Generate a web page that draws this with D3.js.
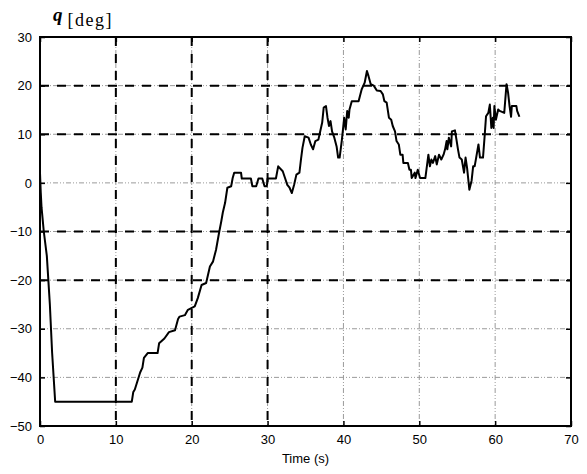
<!DOCTYPE html>
<html>
<head>
<meta charset="utf-8">
<script src="https://cdn.jsdelivr.net/npm/d3@7"></script>
<style>
  body { margin: 0; background: #fff; }
  svg { display: block; }
  .tick-label { font-family: "Liberation Sans", Arial, sans-serif; font-size: 13px; fill: #000; }
</style>
</head>
<body>
<svg id="chart"></svg>
<script>
// time samples (s) and heading angle (deg)
const time = [0, 0.1, 0.2, 0.5, 0.9, 1.1, 1.3, 1.6, 2.0, 12.1, 12.3, 12.5, 12.8, 13.2, 13.5, 13.7, 14.2, 15.5, 15.7, 16.4,
  17.0, 17.8, 18.2, 18.4, 19.1, 19.5, 20.4, 20.8, 21.3, 21.9, 22.4, 22.8, 23.2, 23.6, 23.9, 24.1, 24.4, 24.7, 25.2, 25.4,
  25.6, 26.5, 26.6, 27.8, 28.0, 28.5, 28.8, 29.3, 29.6, 29.9, 30.0, 31.1, 31.4, 32.0, 32.3, 32.6, 32.9, 33.2, 33.5, 33.8,
  34.2, 34.4, 34.6, 34.9, 35.4, 35.7, 36.0, 36.3, 36.7, 36.9, 37.2, 37.4, 37.7, 37.9, 38.1, 38.3, 38.5, 38.8, 39.1, 39.3,
  39.5, 39.8, 40.1, 40.3, 40.5, 40.7, 40.8, 41.1, 42.0, 42.4, 42.8, 43.1, 43.3, 43.6, 44.0, 44.4, 44.9, 45.2, 45.4, 45.7,
  46.0, 46.3, 46.5, 46.8, 47.0, 47.3, 47.5, 47.8, 47.9, 48.5, 48.7, 48.9, 49.0, 49.4, 49.5, 49.8, 50.1, 50.8, 51.0, 51.2,
  51.4, 51.6, 51.8, 52.1, 52.3, 52.6, 52.9, 53.2, 53.4, 53.6, 53.7, 53.9, 54.2, 54.3, 54.7, 54.9, 55.1, 55.3, 55.6, 55.9,
  56.1, 56.3, 56.6, 56.9, 57.1, 57.3, 57.5, 57.8, 58.0, 58.4, 58.6, 58.8, 59.1, 59.3, 59.5, 59.7, 59.8, 59.9, 60.1, 60.4,
  60.6, 61.2, 61.5, 61.7, 61.9, 62.1, 62.2, 62.8, 62.9, 63.2];
const theta = [2, -2, -5, -10, -15, -20, -25, -35, -45, -45, -43, -42.5, -41, -39, -38, -36, -35, -35, -33, -32,
  -30.7, -30.3, -28, -27.5, -27.2, -26.1, -25.4, -23.7, -21, -20.6, -17.2, -16.2, -13.8, -10.3, -7.9, -6.1, -4.1, -1.0, -0.7, 1.0,
  2.1, 2.1, 0.9, 0.9, -0.7, -0.7, 0.9, 0.9, -0.7, -0.7, 0.9, 0.9, 3.4, 2.4, 1, -0.4, -1.0, -2.1, -0.4, 1.7,
  2.1, 4.8, 7.2, 9.6, 9.3, 7.9, 6.9, 8.6, 8.9, 10.3, 12.4, 15.5, 15.8, 13.4, 11.7, 12.7, 10.6, 9.3, 7.5, 5.2,
  5.2, 8.9, 13.4, 11.0, 14.8, 13.4, 15.1, 16.8, 16.8, 19.2, 20.6, 23.0, 22.0, 20.3, 20.0, 19.0, 18.9, 18.2, 16.8, 16.5,
  13.4, 13.0, 11.7, 10.6, 8.6, 7.9, 5.8, 5.8, 4.1, 4.1, 2.7, 2.7, 1.0, 2.1, 1.0, 2.7, 1.0, 1.0, 3.4, 5.8,
  3.4, 4.8, 4.1, 5.5, 3.8, 5.8, 4.8, 5.8, 6.9, 8.6, 6.9, 9.3, 7.5, 10.6, 10.8, 8.9, 6.9, 5.2, 4.8, 2.1,
  5.2, 3.1, -1.4, 0.5, 3.4, 3.4, 5.2, 7.9, 5.2, 5.2, 9.3, 13.7, 14.4, 16.1, 11.3, 13.4, 11.3, 15.8, 13.0, 15.1,
  14.8, 14.4, 20.3, 18.6, 15.8, 13.6, 15.8, 15.8, 14.8, 13.6];

const xTicks = [0, 10, 20, 30, 40, 50, 60, 70];
const yTicks = [30, 20, 10, 0, -10, -20, -30, -40, -50];
// grid lines that carry the heavy black dashes
const xDark = [10, 20, 30];
const yDark = [20, 10, -10, -20];

const width = 587, height = 474;
const margin = { left: 40, right: 16, top: 37, bottom: 48 };
const W = width - margin.left - margin.right;
const H = height - margin.top - margin.bottom;

const svg = d3.select("#chart").attr("width", width).attr("height", height);
const g = svg.append("g").attr("transform", `translate(${margin.left},${margin.top})`);

const x = d3.scaleLinear().domain([0, 70]).range([0, W]);
const y = d3.scaleLinear().domain([-50, 30]).range([H, 0]);

// light grid underneath
g.selectAll(".vgrid").data(xTicks.slice(1, -1)).enter().append("line")
  .attr("x1", d => x(d)).attr("x2", d => x(d)).attr("y1", 0).attr("y2", H)
  .attr("stroke", "#9a9a9a").attr("stroke-width", 1).attr("stroke-dasharray", "5,2,1,2,1,2");
g.selectAll(".hgrid").data(yTicks.slice(1, -1)).enter().append("line")
  .attr("x1", 0).attr("x2", W).attr("y1", d => y(d)).attr("y2", d => y(d))
  .attr("stroke", "#9a9a9a").attr("stroke-width", 1).attr("stroke-dasharray", "5,2,1,2,1,2");

// heavy dashed grid on top
g.selectAll(".vdark").data(xDark).enter().append("line")
  .attr("x1", d => x(d)).attr("x2", d => x(d)).attr("y1", 0).attr("y2", H)
  .attr("stroke", "#000").attr("stroke-width", 2).attr("stroke-dasharray", "9,8");
g.selectAll(".hdark").data(yDark).enter().append("line")
  .attr("x1", 0).attr("x2", W).attr("y1", d => y(d)).attr("y2", d => y(d))
  .attr("stroke", "#000").attr("stroke-width", 2).attr("stroke-dasharray", "9,8");

// the curve
const pts = time.map((t, i) => [t, theta[i]]);
g.append("path")
  .datum(pts)
  .attr("fill", "none")
  .attr("stroke", "#000")
  .attr("stroke-width", 2)
  .attr("stroke-linejoin", "round")
  .attr("d", d3.line().x(d => x(d[0])).y(d => y(d[1])));

// axes with inward ticks, box on all sides
g.append("g").attr("transform", `translate(0,${H})`)
  .call(d3.axisBottom(x).tickValues(xTicks).tickSizeInner(-5).tickSizeOuter(0).tickPadding(9));
g.append("g")
  .call(d3.axisLeft(y).tickValues(yTicks).tickSizeInner(-5).tickSizeOuter(0).tickPadding(8));
g.append("g")
  .call(d3.axisTop(x).tickValues(xTicks).tickSizeInner(-5).tickSizeOuter(0).tickFormat(""));
g.append("g").attr("transform", `translate(${W},0)`)
  .call(d3.axisRight(y).tickValues(yTicks).tickSizeInner(-5).tickSizeOuter(0).tickFormat(""));

g.selectAll(".domain").remove();
g.selectAll(".tick line").attr("stroke", "#000").attr("stroke-width", 1.5);
g.selectAll(".tick text").attr("class", "tick-label").attr("font-family", null).attr("font-size", null);

g.append("rect").attr("width", W).attr("height", H)
  .attr("fill", "none").attr("stroke", "#000").attr("stroke-width", 2);

// labels
svg.append("text")
  .attr("x", margin.left + W / 2).attr("y", 463)
  .attr("text-anchor", "middle")
  .attr("class", "tick-label")
  .text("Time (s)");

const title = svg.append("text").attr("x", 53).attr("y", 21);
title.append("tspan")
  .attr("font-family", "'Liberation Serif', 'Times New Roman', serif")
  .attr("font-weight", "bold").attr("font-style", "italic").attr("font-size", 19)
  .text("q");
title.append("tspan")
  .attr("dx", 5).attr("dy", 5)
  .attr("font-family", "'Liberation Serif', 'Times New Roman', serif")
  .attr("font-size", 18).attr("letter-spacing", 1.5)
  .text("[deg]");
</script>
</body>
</html>
